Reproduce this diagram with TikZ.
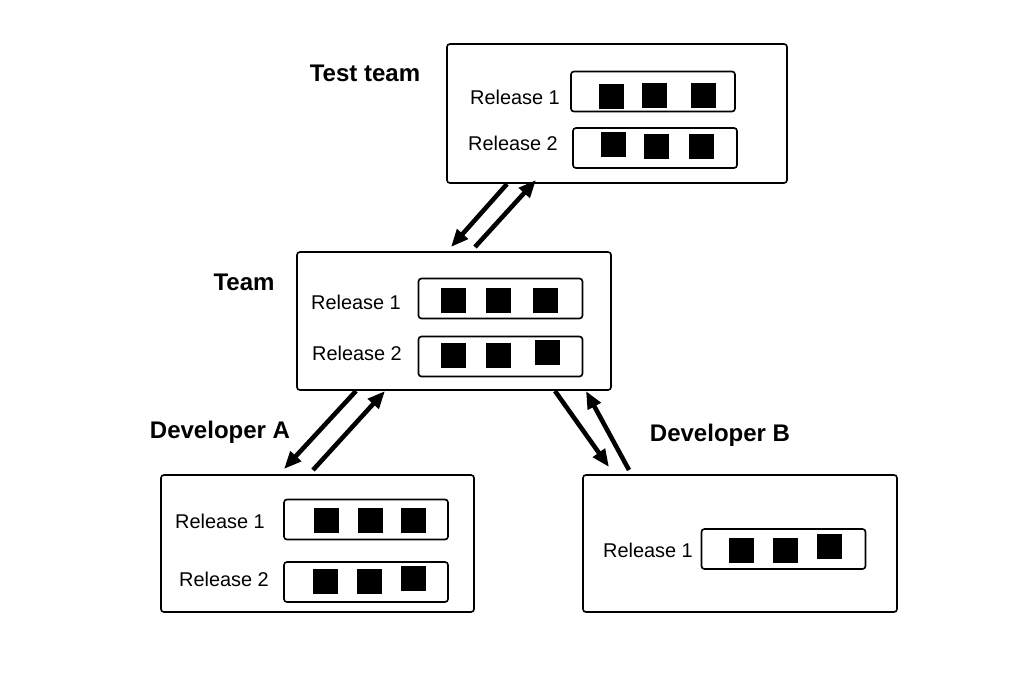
\documentclass[tikz,border=0pt]{standalone}
\usepackage{fontspec}
\setmainfont{Liberation Sans}
\usetikzlibrary{arrows.meta}
\tikzset{
  bigbox/.style 2 args={draw, rounded corners=2.5pt, line width=1.4pt, minimum width=#1*0.03cm, minimum height=#2*0.03cm, inner sep=0pt},
  relbox/.style={draw, rounded corners=2.5pt, line width=1.4pt, minimum width=164*0.03cm, minimum height=40*0.03cm, inner sep=0pt},
  sq/.style={fill=black, minimum size=25*0.03cm, inner sep=0pt},
  rel/.style={font=\fontsize{17}{20}\selectfont},
  title/.style={font=\bfseries\fontsize{20.5}{24}\selectfont},
  flow/.style={line width=3.9pt, -{Triangle[length=15pt, width=12pt]}, shorten >=0pt}
}
\begin{document}
\begin{tikzpicture}[x=0.03cm, y=-0.03cm]
\useasboundingbox (0,0) rectangle (1024,691);
% Test team
\node[bigbox={340}{139}] (tt) at (617,113.5) {};
\node[title] (ttl) at (365,73) {Test team};
\node[rel] (ttr1l) at (515,97) {Release 1};
\node[relbox] (ttr1) at (653,91.5) {};
\node[sq] (tta1) at (611,96) {};
\node[sq] (tta2) at (654,95) {};
\node[sq] (tta3) at (703,95) {};
\node[rel] (ttr2l) at (513,143) {Release 2};
\node[relbox] (ttr2) at (655,148) {};
\node[sq] (ttb1) at (613,144) {};
\node[sq] (ttb2) at (656,146) {};
\node[sq] (ttb3) at (701,146) {};
% Team
\node[bigbox={314}{138}] (tm) at (454,321) {};
\node[title] (tml) at (244,282) {Team};
\node[rel] (tmr1l) at (356,302) {Release 1};
\node[relbox] (tmr1) at (500.5,298.5) {};
\node[sq] (tma1) at (453,300) {};
\node[sq] (tma2) at (498,300) {};
\node[sq] (tma3) at (545,300) {};
\node[rel] (tmr2l) at (357,353) {Release 2};
\node[relbox] (tmr2) at (500.5,356.5) {};
\node[sq] (tmb1) at (453,355) {};
\node[sq] (tmb2) at (498,355) {};
\node[sq] (tmb3) at (547,352) {};
% Developer A
\node[bigbox={313}{137}] (da) at (317.5,543.5) {};
\node[title] (dal) at (220,432) {Developer A};
\node[rel] (dar1l) at (220,521) {Release 1};
\node[relbox] (dar1) at (366,519.5) {};
\node[sq] (daa1) at (326,520) {};
\node[sq] (daa2) at (370,520) {};
\node[sq] (daa3) at (413,520) {};
\node[rel] (dar2l) at (224,579) {Release 2};
\node[relbox] (dar2) at (366,582) {};
\node[sq] (dab1) at (325,581) {};
\node[sq] (dab2) at (369,581) {};
\node[sq] (dab3) at (413,578) {};
% Developer B
\node[bigbox={314}{137}] (db) at (740,543.5) {};
\node[title] (dbl) at (720,435) {Developer B};
\node[rel] (dbr1l) at (648,550) {Release 1};
\node[relbox] (dbr1) at (783.5,549) {};
\node[sq] (dba1) at (741,550) {};
\node[sq] (dba2) at (785,550) {};
\node[sq] (dba3) at (829,546) {};
% arrow end points
\coordinate (t1s) at (507,184);
\coordinate (t1e) at (451,247);
\coordinate (t2s) at (475,247);
\coordinate (t2e) at (536,180);
\coordinate (a1s) at (356,391);
\coordinate (a1e) at (284,469);
\coordinate (a2s) at (313,470);
\coordinate (a2e) at (385,391);
\coordinate (b1s) at (555,391);
\coordinate (b1e) at (609,467);
\coordinate (b2s) at (629,470);
\coordinate (b2e) at (586,391);
\draw[flow] (t1s) -- (t1e);
\draw[flow] (t2s) -- (t2e);
\draw[flow] (a1s) -- (a1e);
\draw[flow] (a2s) -- (a2e);
\draw[flow] (b1s) -- (b1e);
\draw[flow] (b2s) -- (b2e);
\end{tikzpicture}
\end{document}
